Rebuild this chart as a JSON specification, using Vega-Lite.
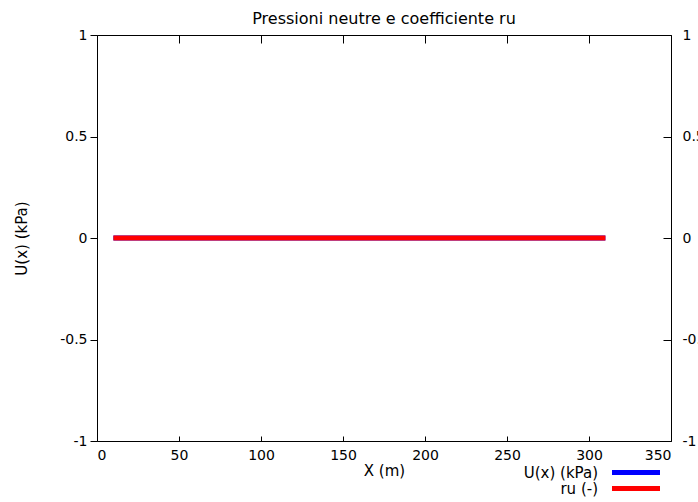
{
  "$schema": "https://vega.github.io/schema/vega-lite/v6.json",
  "width": 574,
  "height": 406,
  "autosize": {"type": "none"},
  "padding": {"left": 97, "top": 35, "right": 27, "bottom": 61},
  "title": {"text": "Pressioni neutre e coefficiente ru", "font": "DejaVu Sans", "fontSize": 16, "fontWeight": "normal", "color": "#000", "offset": 1},
  "config": {
    "view": {"stroke": "#000", "strokeWidth": 1},
    "axis": {"grid": false, "labelFont": "DejaVu Sans", "labelFontSize": 14, "labelColor": "#000", "domainColor": "#000", "tickColor": "#000", "titleFont": "DejaVu Sans", "titleFontSize": 15, "titleFontWeight": "normal", "titleColor": "#000"},
    "legend": {"labelFont": "DejaVu Sans", "labelFontSize": 15, "labelColor": "#000", "title": null, "orient": "none", "symbolType": "M-4.8,0H4.8", "symbolSize": 100, "symbolStrokeWidth": 5, "padding": 0}
  },
  "data": {"values": [
    {"x": 10, "series": "U(x) (kPa)", "value": 0},
    {"x": 17, "series": "U(x) (kPa)", "value": 0},
    {"x": 30, "series": "U(x) (kPa)", "value": 0},
    {"x": 49, "series": "U(x) (kPa)", "value": 0},
    {"x": 92, "series": "U(x) (kPa)", "value": 0},
    {"x": 135, "series": "U(x) (kPa)", "value": 0},
    {"x": 250, "series": "U(x) (kPa)", "value": 0},
    {"x": 310, "series": "U(x) (kPa)", "value": 0},
    {"x": 10, "series": "ru (-)", "value": 0},
    {"x": 17, "series": "ru (-)", "value": 0},
    {"x": 30, "series": "ru (-)", "value": 0},
    {"x": 49, "series": "ru (-)", "value": 0},
    {"x": 92, "series": "ru (-)", "value": 0},
    {"x": 135, "series": "ru (-)", "value": 0},
    {"x": 250, "series": "ru (-)", "value": 0},
    {"x": 310, "series": "ru (-)", "value": 0}
  ]},
  "layer": [
    {
      "transform": [{"filter": "datum.series === 'U(x) (kPa)'"}],
      "mark": {"type": "line", "strokeWidth": 5},
      "encoding": {
        "x": {"field": "x", "type": "quantitative", "scale": {"domain": [0, 350], "nice": false},
              "axis": {"orient": "bottom", "title": "X (m)", "values": [0, 50, 100, 150, 200, 250, 300, 350], "labelExpr": "datum.value + ''", "tickSize": -5, "labelPadding": 12, "titlePadding": 1, "domain": false}},
        "y": {"field": "value", "type": "quantitative", "scale": {"domain": [-1, 1], "nice": false},
              "axis": {"orient": "left", "title": "U(x) (kPa)", "values": [-1, -0.5, 0, 0.5, 1], "labelExpr": "datum.value + ''", "tickSize": 7, "labelPadding": 3, "titlePadding": 30, "domain": false}},
        "color": {"field": "series", "type": "nominal", "scale": {"domain": ["U(x) (kPa)"], "range": ["#0000ff"]},
                  "legend": {"legendX": 416, "legendY": 430,
                             "encode": {"labels": {"update": {"x": {"value": 85}, "align": {"value": "right"}}}, "symbols": {"update": {"x": {"value": 123}}}}}}
      }
    },
    {
      "transform": [{"filter": "datum.series === 'ru (-)'"}],
      "mark": {"type": "line", "strokeWidth": 5},
      "encoding": {
        "x": {"field": "x", "type": "quantitative",
              "axis": {"orient": "top", "title": null, "labels": false, "values": [0, 50, 100, 150, 200, 250, 300, 350], "tickSize": -8, "domain": false}},
        "y": {"field": "value", "type": "quantitative",
              "axis": {"orient": "right", "title": null, "values": [-1, -0.5, 0, 0.5, 1], "labelExpr": "datum.value + ''", "tickSize": -8, "labelPadding": 19, "domain": false}},
        "color": {"field": "series", "type": "nominal", "scale": {"domain": ["ru (-)"], "range": ["#ff0000"]},
                  "legend": {"legendX": 416, "legendY": 446,
                             "encode": {"labels": {"update": {"x": {"value": 85}, "align": {"value": "right"}}}, "symbols": {"update": {"x": {"value": 123}}}}}}
      }
    }
  ],
  "resolve": {"axis": {"x": "independent", "y": "independent"}, "scale": {"color": "independent"}}
}
